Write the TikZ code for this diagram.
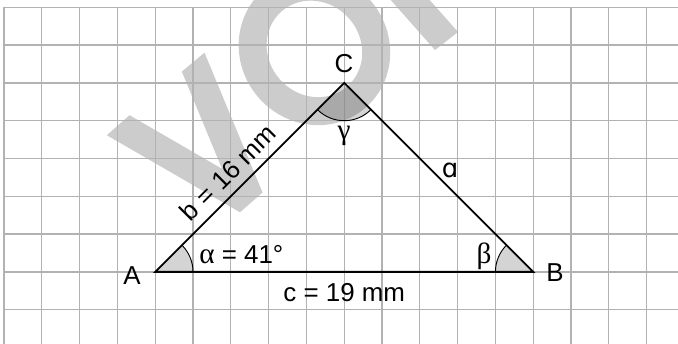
\documentclass[tikz,border=0pt]{standalone}
\usepackage{fontspec}
\setmainfont{Liberation Sans}
\newfontfamily\greekfont{Liberation Serif}
\newfontfamily\ipafont{DejaVu Sans}
\newcommand{\gk}[1]{{\greekfont\fontsize{22}{24}\selectfont #1}}
\begin{document}
\begin{tikzpicture}[x=1cm,y=1cm,
  gridline/.style={draw=black!30, line width=1pt},
  side/.style={draw=black, line width=1.4pt, line join=miter},
  wedge/.style={fill=black, fill opacity=0.17, draw=none},
  arcline/.style={draw=black, line width=0.7pt},
  lab/.style={font=\fontsize{19.5}{22}\selectfont, inner sep=0pt},
  wm/.style={fill=black!20}]
\useasboundingbox (-0.106,0.193) rectangle (17.83,-8.907);
\begin{scope}
\clip (-0.106,0.193) rectangle (17.83,-8.907);
% watermark (faint background lettering)
\fill[wm] (2.720,-3.384) -- (3.320,-2.855) -- (5.767,-4.272) -- (4.704,-1.701)
  -- (5.304,-1.201) -- (6.839,-4.900) -- (6.243,-5.423) -- cycle;
\fill[wm, even odd rule] [rotate around={41.5:(8.212,-1.101)}]
  (8.212,-1.101) ellipse [x radius=1.96, y radius=2.06]
  (8.212,-1.101) ellipse [x radius=1.22, y radius=1.32];
\fill[wm] (11.402,-1.132) -- (12.011,-0.653) -- (9.378,2.320) -- (8.770,1.844) -- cycle;
% grid
\foreach \i in {0,...,17} \draw[gridline] (\i,0) -- (\i,-8.95);
\foreach \j in {0,...,8} \draw[gridline] (0,-\j) -- (17.9,-\j);
\end{scope}
% vertices
\coordinate (A) at (4,-7);
\coordinate (B) at (14,-7);
\coordinate (C) at (9,-2);
% angle wedges
\fill[wedge] (A) -- ++(0:1) arc[start angle=0, end angle=45, radius=1] -- cycle;
\fill[wedge] (B) -- ++(135:1) arc[start angle=135, end angle=180, radius=1] -- cycle;
\fill[wedge] (C) -- ++(225:1) arc[start angle=225, end angle=315, radius=1] -- cycle;
\draw[arcline] (A) ++(0:1) arc[start angle=0, end angle=45, radius=1];
\draw[arcline] (B) ++(135:1) arc[start angle=135, end angle=180, radius=1];
\draw[arcline] (C) ++(225:1) arc[start angle=225, end angle=315, radius=1];
% triangle
\draw[side] (A) -- (B) -- (C) -- cycle;
% labels
\node[lab] (lA) at (3.386,-7.109) {A};
\node[lab] (lB) at (14.577,-7.029) {B};
\node[lab] (lC) at (8.995,-1.500) {C};
\node[lab] (lgamma) at (8.995,-3.405) {\gk{γ}};
\node[lab] (lbeta) at (12.698,-6.593) {\gk{β}};
\node[lab, anchor=base west] (lalpha) at (5.159,-6.773) {\gk{α} = 41°};
\node[lab, anchor=base] (lc) at (9.0,-7.770) {c = 19 mm};
\node[lab] (la) at (11.799,-4.304) {\ipafont ɑ};
\node[lab, anchor=base, rotate=45] (lb) at (6.098,-4.542) {b = 16 mm};
\end{tikzpicture}
\end{document}
